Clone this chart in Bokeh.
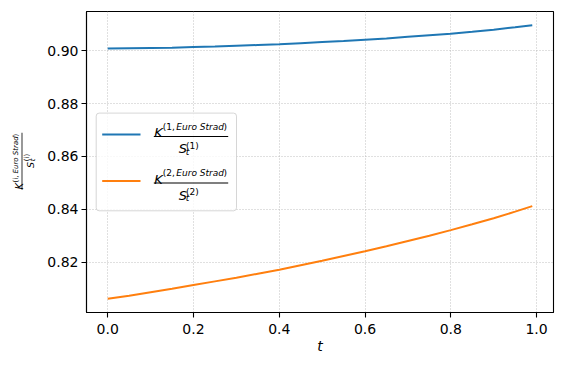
import math
from bokeh.plotting import figure
from bokeh.layouts import row
from bokeh.models import Range1d, FixedTicker, NumeralTickFormatter, Label, BoxAnnotation
from bokeh.embed import file_html
from bokeh.resources import INLINE

# ---- data ----
t = [0.0, 0.05, 0.1, 0.15, 0.2, 0.25, 0.3, 0.35, 0.4, 0.45, 0.5,
     0.55, 0.6, 0.65, 0.7, 0.75, 0.8, 0.85, 0.9, 0.95, 0.99]
ratio_1 = [0.9009, 0.9010, 0.9011, 0.9012, 0.9014, 0.9016, 0.9019, 0.9022, 0.9025, 0.9029, 0.9033,
           0.9037, 0.9042, 0.9047, 0.9053, 0.9059, 0.9065, 0.9072, 0.9080, 0.9089, 0.9097]
ratio_2 = [0.8061, 0.8073, 0.8086, 0.8099, 0.8113, 0.8127, 0.8141, 0.8156, 0.8171, 0.8188, 0.8205,
           0.8223, 0.8241, 0.8260, 0.8280, 0.8300, 0.8321, 0.8343, 0.8366, 0.8391, 0.8412]
x_ticks = [0.0, 0.2, 0.4, 0.6, 0.8, 1.0]
y_ticks = [0.82, 0.84, 0.86, 0.88, 0.90]
series_ids = ["1", "2"]

BLUE = "#1f77b4"
ORANGE = "#ff7f0e"
FONT = "DejaVu Sans"
H = 358
LW = 40
FB = 312  # page y of the frame bottom (frames of both figures are aligned)

# matplotlib-like 5% margins
xmin, xmax = min(t), max(t)
ymin = min(min(ratio_1), min(ratio_2))
ymax = max(max(ratio_1), max(ratio_2))
xm = 0.05 * (xmax - xmin)
ym = 0.05 * (ymax - ymin)

p = figure(width=516, height=H, output_backend="svg", toolbar_location=None,
           x_range=Range1d(xmin - xm, xmax + xm), y_range=Range1d(ymin - ym, ymax + ym),
           min_border_left=46, min_border_right=3, min_border_top=11, min_border_bottom=46)
p.background_fill_color = "white"
p.border_fill_color = "white"
p.outline_line_color = "black"
p.outline_line_width = 1.1
p.outline_line_alpha = 1.0

p.line(t, ratio_1, line_color=BLUE, line_width=2)
p.line(t, ratio_2, line_color=ORANGE, line_width=2)

for ax in (p.xaxis, p.yaxis):
    ax.axis_line_color = "black"
    ax.axis_line_width = 1.1
    ax.major_tick_line_color = "black"
    ax.major_tick_line_width = 1.1
    ax.major_tick_out = 5
    ax.major_tick_in = 0
    ax.minor_tick_line_color = None
    ax.major_label_text_font = FONT
    ax.major_label_text_font_size = "14px"
    ax.major_label_text_color = "black"
p.xaxis.major_label_standoff = 6
p.yaxis.major_label_standoff = 3

p.xaxis.ticker = FixedTicker(ticks=x_ticks)
p.yaxis.ticker = FixedTicker(ticks=y_ticks)
p.xaxis.formatter = NumeralTickFormatter(format="0.0")
p.yaxis.formatter = NumeralTickFormatter(format="0.00")
p.xaxis.axis_label = "t"
p.xaxis.axis_label_text_font = FONT
p.xaxis.axis_label_text_font_style = "italic"
p.xaxis.axis_label_text_font_size = "14px"
p.xaxis.axis_label_text_color = "black"
p.xaxis.axis_label_standoff = 1

for g in (p.xgrid, p.ygrid):
    g.grid_line_color = "#b0b0b0"
    g.grid_line_dash = "1 2"
    g.grid_line_width = 0.8


def lab(fig, text, x, y, size, italic=False, angle=0.0):
    fig.add_layout(Label(text=text, x=x, y=y, x_units="screen", y_units="screen",
                         text_font=FONT, text_font_size=f"{size}px",
                         text_font_style="italic" if italic else "normal",
                         text_color="black", text_align="left", text_baseline="alphabetic",
                         angle=angle, level="annotation"))


def sbox(fig, left, right, bottom, top, color, alpha=1.0, line=None, radius=0):
    fig.add_layout(BoxAnnotation(left=left, right=right, bottom=bottom, top=top,
                                 left_units="screen", right_units="screen",
                                 bottom_units="screen", top_units="screen",
                                 fill_color=color, fill_alpha=alpha,
                                 line_color=line, line_alpha=0.8 if line else 0,
                                 line_width=1, border_radius=radius, level="annotation"))


# ---- legend (inside the frame, frame-relative screen units) ----
sbox(p, 9.7, 150, 101.7, 199.4, "white", 0.8, line="#cccccc", radius=3)
for i, (sid, col) in enumerate(zip(series_ids, [BLUE, ORANGE])):
    dy = 46.5 * i
    sbox(p, 15.7, 54, 177 - dy, 179 - dy, col)
    lab(p, "K", 67.8, 180 - dy, 13, italic=True)
    lab(p, f"({sid},", 76.3, 185.7 - dy, 9)
    lab(p, "Euro Strad", 89.8, 185.7 - dy, 9, italic=True)
    lab(p, ")", 137, 185.7 - dy, 9)
    sbox(p, 67.3, 141.7, 175.6 - dy, 176.4 - dy, "black")
    lab(p, "S", 92.3, 164 - dy, 13, italic=True)
    lab(p, f"({sid})", 99.5, 166.9 - dy, 9)
    lab(p, "t", 99.3, 161 - dy, 9, italic=True)

# ---- y-axis label (rotated fraction) in a narrow side figure ----
q = figure(width=LW, height=H, output_backend="svg", toolbar_location=None,
           x_axis_location=None, y_axis_location=None,
           min_border_left=0, min_border_right=0, min_border_top=0, min_border_bottom=0)
q.outline_line_color = None
q.xgrid.visible = False
q.ygrid.visible = False
q.background_fill_color = "white"
q.border_fill_color = "white"

A = math.pi / 2
lab(q, "K", 18.5, FB - 189, 10, italic=True, angle=A)
lab(q, "(i,", 15, FB - 182, 7, angle=A)
lab(q, "Euro Strad", 15, FB - 172.9, 7, italic=True, angle=A)
lab(q, ")", 15, FB - 135.9, 7, angle=A)
sbox(q, 21.1, 21.9, FB - 189.3, FB - 132.3, "black")
lab(q, "S", 30, FB - 167.5, 9.5, italic=True, angle=A)
lab(q, "(i)", 26.5, FB - 160.8, 7, angle=A)
lab(q, "t", 32, FB - 160.8, 7, italic=True, angle=A)

layout = row(q, p, spacing=0)
open("out.html", "w").write(file_html(layout, INLINE))
